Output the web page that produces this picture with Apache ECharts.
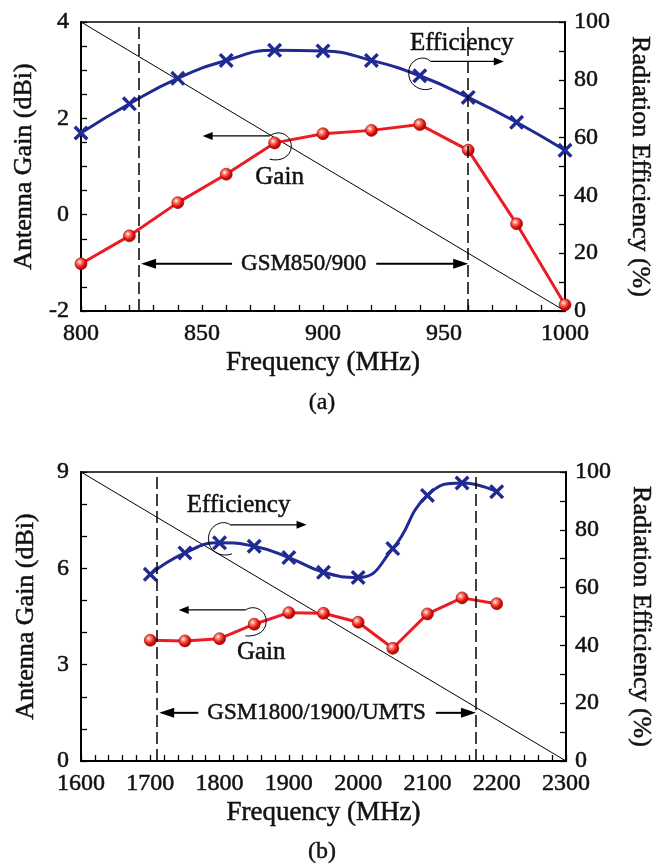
<!DOCTYPE html>
<html>
<head>
<meta charset="utf-8">
<script src="https://cdn.jsdelivr.net/npm/echarts@6/dist/echarts.min.js"></script>
<style>
html,body{margin:0;padding:0;background:#fff;}
#chart{width:670px;height:865px;}
</style>
</head>
<body>
<div id="chart"></div>
<script>
// ---------- data ----------
const freqA = [800, 820, 840, 860, 880, 900, 920, 940, 960, 980, 1000];
const gainA = [-1.02, -0.44, 0.25, 0.84, 1.49, 1.68, 1.75, 1.87, 1.34, -0.19, -1.87];
const effA  = [61.6, 71.7, 80.5, 86.7, 90.2, 90.0, 86.7, 81.4, 73.9, 65.3, 55.6];

const freqB = [1700, 1750, 1800, 1850, 1900, 1950, 2000, 2050, 2100, 2150, 2200];
const gainB = [3.76, 3.74, 3.81, 4.26, 4.62, 4.60, 4.32, 3.51, 4.58, 5.08, 4.90];
const effB  = [64.6, 72.0, 75.5, 74.3, 70.4, 65.3, 63.5, 73.5, 91.9, 96.2, 93.2];

const xTicksA = [800, 850, 900, 950, 1000];
const gainTicksA = [-2, 0, 2, 4];
const xTicksB = [1600, 1700, 1800, 1900, 2000, 2100, 2200, 2300];
const gainTicksB = [0, 3, 6, 9];
const effTicks = [0, 20, 40, 60, 80, 100];

const bandA = [824, 960];   const bandAY = -1.02; const bandAText = 'GSM850/900';
const bandB = [1710, 2170]; const bandBY = 1.5;   const bandBText = 'GSM1800/1900/UMTS';

// ---------- styles ----------
const FONT = '"Liberation Serif", "Times New Roman", serif';
const INK = '#111';
const BLUE = '#1f2a92';
const RED = '#ec1c24';
const X_SYMBOL = 'path://M0,1.6 L1.6,0 L5,3.4 L8.4,0 L10,1.6 L6.6,5 L10,8.4 L8.4,10 L5,6.6 L1.6,10 L0,8.4 L3.4,5 Z';
const BALL = {type:'radial', x:0.38, y:0.36, r:0.7, colorStops:[
  {offset:0, color:'#ffffff'}, {offset:0.22, color:'#ff8a7a'},
  {offset:0.6, color:'#e3140f'}, {offset:1, color:'#8c0000'}]};
const THICK = {textBorderColor:INK, textBorderWidth:0.5};

const measureCtx = document.createElement('canvas').getContext('2d');
function textWidth(t, size){ measureCtx.font = size + 'px ' + FONT; return measureCtx.measureText(t).width; }

function span(arr){ return {min: arr[0], max: arr[arr.length-1], interval: arr[1]-arr[0]}; }

function xAxisCfg(grid, ticks, minorSplit){
  const s = span(ticks);
  return {
    type:'value', gridIndex:grid, min:s.min, max:s.max, interval:s.interval,
    name:'Frequency (MHz)', nameLocation:'middle', nameGap:38,
    nameTextStyle:Object.assign({fontFamily:FONT, fontSize:27, color:INK}, THICK),
    axisLine:{show:true, onZero:false, lineStyle:{color:'#000', width:2}},
    axisTick:{show:true, inside:true, length:6, lineStyle:{color:'#000', width:1.3}},
    minorTick:{show:true, splitNumber:minorSplit, length:6, lineStyle:{color:'#000', width:1.3}},
    axisLabel:Object.assign({fontFamily:FONT, fontSize:24, color:INK, margin:11, formatter:v=>String(v)}, THICK),
    splitLine:{show:false}
  };
}
function yAxisCfg(grid, ticks, minorSplit, pos, name, gap, rot){
  const s = span(ticks);
  return {
    type:'value', gridIndex:grid, position:pos, min:s.min, max:s.max, interval:s.interval,
    name:name, nameLocation:'middle', nameGap:gap, nameRotate:rot,
    nameTextStyle:Object.assign({fontFamily:FONT, fontSize:26, color:INK}, THICK),
    axisLine:{show:true, onZero:false, lineStyle:{color:'#000', width:2}},
    axisTick:{show:true, inside:true, length:6, lineStyle:{color:'#000', width:1.3}},
    minorTick:{show:true, splitNumber:minorSplit, length:6, lineStyle:{color:'#000', width:1.3}},
    axisLabel:Object.assign({fontFamily:FONT, fontSize:24, color:INK, margin: pos==='left' ? 12 : 9, formatter:v=>String(v)}, THICK),
    splitLine:{show:false}
  };
}

function zip(a, b){ return a.map((v,i)=>[v, b[i]]); }

function gainSeries(xi, yi, f, g){
  return {type:'line', xAxisIndex:xi, yAxisIndex:yi, data:zip(f,g), z:4,
    symbol:'circle', symbolSize:12,
    itemStyle:{color:BALL, borderColor:'#9a0000', borderWidth:0.6},
    lineStyle:{color:RED, width:3}, silent:true, animation:false};
}
function effSeries(xi, yi, f, e){
  return {type:'line', xAxisIndex:xi, yAxisIndex:yi, data:zip(f,e), z:4, smooth:0.5,
    symbol:X_SYMBOL, symbolSize:15,
    itemStyle:{color:BLUE},
    lineStyle:{color:BLUE, width:3}, silent:true, animation:false};
}
function diagSeries(xi, yi, xs, ys, band){
  return {type:'line', xAxisIndex:xi, yAxisIndex:yi,
    data:[[xs[0], ys[ys.length-1]], [xs[xs.length-1], ys[0]]],
    symbol:'none', lineStyle:{color:'#000', width:1}, z:2, silent:true, animation:false,
    markLine:{silent:true, symbol:'none', animation:false, label:{show:false},
      lineStyle:{color:'#000', width:1.5, type:[12,5]},
      data: band.map(v=>({xAxis:v}))}};
}

function arrowHead(tip, dir, L, H){
  return {type:'polygon', shape:{points:[tip, [tip[0]-dir*L, tip[1]-H], [tip[0]-dir*L, tip[1]+H]]},
          style:{fill:'#000'}};
}

function bandSeries(xi, yi, band, y, text){
  return {type:'custom', xAxisIndex:xi, yAxisIndex:yi, silent:true, z:6, animation:false,
    data:[[band[0], band[1], y]],
    renderItem:function(params, api){
      const p1 = api.coord([api.value(0), api.value(2)]);
      const p2 = api.coord([api.value(1), api.value(2)]);
      const mid = (p1[0]+p2[0])/2, yy = p1[1];
      const hw = textWidth(text, 23)/2;
      const lt = p1[0]+2, rt = p2[0];
      const la = mid-hw-9, ra = mid+hw+10;
      return {type:'group', children:[
        {type:'line', shape:{x1:la, y1:yy, x2:lt+12, y2:yy}, style:{stroke:'#000', lineWidth:2}},
        arrowHead([lt, yy], -1, 15, 5),
        {type:'line', shape:{x1:ra, y1:yy, x2:rt-12, y2:yy}, style:{stroke:'#000', lineWidth:2}},
        arrowHead([rt, yy], 1, 15, 5),
        {type:'text', style:{text:text, x:mid, y:yy, align:'center', verticalAlign:'middle',
          font:'23px ' + FONT, fill:INK, stroke:INK, lineWidth:0.5}}
      ]};
    }};
}

// cfg: start, tip, dir, text, textPos, b1:[end, c1, c2], b2:[end, c1, c2]
function pointerSeries(xi, yi, x, y, cfg){
  return {type:'custom', xAxisIndex:xi, yAxisIndex:yi, silent:true, z:6, animation:false,
    data:[[x, y]],
    renderItem:function(params, api){
      const p = api.coord([api.value(0), api.value(1)]);
      const o = d => [p[0]+d[0], p[1]+d[1]];
      const s = o(cfg.start), t = o(cfg.tip);
      const m = o(cfg.b1[0]), e = o(cfg.b2[0]);
      const c11 = o(cfg.b1[1]), c12 = o(cfg.b1[2]), c21 = o(cfg.b2[1]), c22 = o(cfg.b2[2]);
      const tp = o(cfg.textPos);
      return {type:'group', children:[
        {type:'line', shape:{x1:s[0], y1:s[1], x2:t[0]-cfg.dir*8, y2:t[1]}, style:{stroke:'#000', lineWidth:1.2}},
        arrowHead(t, cfg.dir, 10, 4),
        {type:'bezierCurve', shape:{x1:s[0], y1:s[1], cpx1:c11[0], cpy1:c11[1], cpx2:c12[0], cpy2:c12[1], x2:m[0], y2:m[1]},
          style:{stroke:'#000', fill:null, lineWidth:1}},
        {type:'bezierCurve', shape:{x1:m[0], y1:m[1], cpx1:c21[0], cpy1:c21[1], cpx2:c22[0], cpy2:c22[1], x2:e[0], y2:e[1]},
          style:{stroke:'#000', fill:null, lineWidth:1}},
        {type:'text', style:{text:cfg.text, x:tp[0], y:tp[1], align:'center', verticalAlign:'middle',
          font:'25px ' + FONT, fill:INK, stroke:INK, lineWidth:0.5}}
      ]};
    }};
}

const chart = echarts.init(document.getElementById('chart'), null, {renderer:'canvas'});
chart.setOption({
  animation:false,
  backgroundColor:'#fff',
  grid:[
    {left:81, top:22, width:484, height:289, show:true, borderColor:'#000', borderWidth:1.5, backgroundColor:'transparent'},
    {left:81, top:472, width:485, height:289, show:true, borderColor:'#000', borderWidth:1.5, backgroundColor:'transparent'}
  ],
  xAxis:[ xAxisCfg(0, xTicksA, 5), xAxisCfg(1, xTicksB, 5) ],
  yAxis:[
    yAxisCfg(0, gainTicksA, 4, 'left', 'Antenna Gain (dBi)', 42, 90),
    yAxisCfg(0, effTicks, 2, 'right', 'Radiation Efficiency (%)', 62, -90),
    yAxisCfg(1, gainTicksB, 3, 'left', 'Antenna Gain (dBi)', 42, 90),
    yAxisCfg(1, effTicks, 2, 'right', 'Radiation Efficiency (%)', 62, -90)
  ],
  graphic:[
    {type:'text', x:322, y:403, style:{text:'(a)', align:'center', verticalAlign:'middle', font:'24px ' + FONT, fill:INK, stroke:INK, lineWidth:0.4}},
    {type:'text', x:322, y:852, style:{text:'(b)', align:'center', verticalAlign:'middle', font:'24px ' + FONT, fill:INK, stroke:INK, lineWidth:0.4}}
  ],
  series:[
    diagSeries(0, 0, xTicksA, gainTicksA, bandA),
    gainSeries(0, 0, freqA, gainA),
    effSeries(0, 1, freqA, effA),
    bandSeries(0, 0, bandA, bandAY, bandAText),
    pointerSeries(0, 1, freqA[7], effA[7], {text:'Efficiency', dir:1,
      start:[10.7,-14.3], tip:[84,-14.3], textPos:[42,-32],
      b1:[[-11,-2],[4,-22],[-12,-16]], b2:[[12.4,12.4],[-11,10],[2,17]]}),
    pointerSeries(0, 0, freqA[4], gainA[4], {text:'Gain', dir:-1,
      start:[-5,-7], tip:[-72,-7], textPos:[5,35],
      b1:[[16.7,4],[5,-14],[17,-8]], b2:[[-5,16.3],[16,14],[6,19]]}),

    diagSeries(1, 2, xTicksB, gainTicksB, bandB),
    gainSeries(1, 2, freqB, gainB),
    effSeries(1, 3, freqB, effB),
    bandSeries(1, 2, bandB, bandBY, bandBText),
    pointerSeries(1, 3, freqB[2], effB[2], {text:'Efficiency', dir:1,
      start:[10.7,-18], tip:[87,-18], textPos:[19,-37],
      b1:[[-11,-3],[3,-24],[-12,-17]], b2:[[12.4,11],[-11,9],[2,15]]}),
    pointerSeries(1, 2, freqB[3], gainB[3], {text:'Gain', dir:-1,
      start:[-8.7,-14.3], tip:[-75.5,-14.3], textPos:[7,28],
      b1:[[12,-3],[0,-20],[12,-14]], b2:[[-8.7,11.7],[12,8],[2,12.5]]})
  ]
});
</script>
</body>
</html>
